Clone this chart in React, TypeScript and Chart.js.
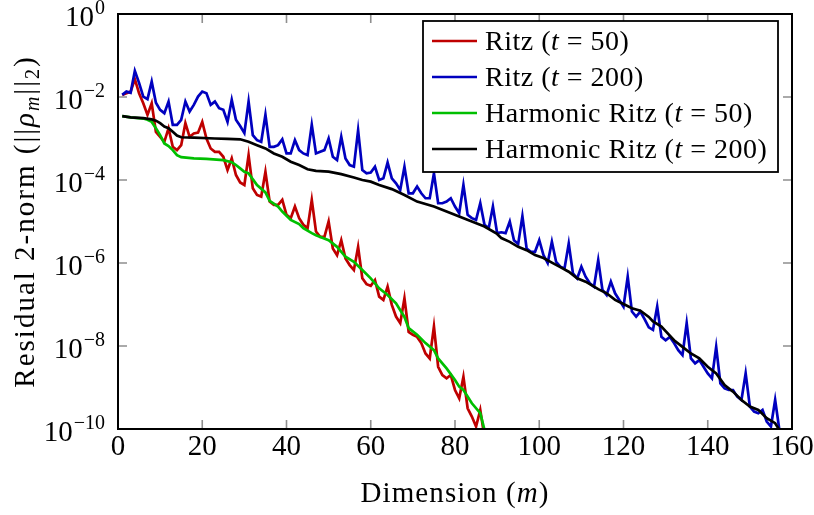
import React, { useEffect, useRef } from "react";
import { Chart, registerables } from "chart.js";

Chart.register(...registerables);

// Values are log10 of the residual 2-norm.
// Ritz (t = 50): dimension m = 1..87
const ritz50Log10 = [
  -1.95, -1.91, -1.87, -1.57, -1.91, -2.15, -2.43, -2.15, -2.84, -2.96,
  -3.08, -2.75, -3.2, -3.28, -3.16, -2.63, -2.96, -2.88, -2.86, -2.6,
  -3.0, -3.24, -3.32, -3.32, -3.44, -3.76, -3.48, -3.88, -4.06, -4.12,
  -3.4, -4.2, -4.36, -4.4, -3.8, -4.52, -4.6, -4.6, -4.48, -4.84,
  -4.92, -4.64, -4.92, -5.08, -5.16, -4.48, -5.24, -5.37, -5.37, -5.0,
  -5.65, -5.81, -5.45, -5.89, -6.05, -6.17, -5.61, -6.37, -6.51, -6.55,
  -6.41, -6.81, -6.89, -6.57, -7.01, -7.29, -7.45, -6.85, -7.66, -7.73,
  -7.78, -7.93, -8.18, -8.3, -7.53, -8.5, -8.7, -8.78, -8.7, -9.06,
  -9.26, -8.74, -9.5, -9.7, -9.94, -9.54, -10.2,
];

// Ritz (t = 200): dimension m = 1..157
const ritz200Log10 = [
  -1.95, -1.87, -1.9, -1.37, -1.66, -1.99, -2.05, -1.63, -2.14, -2.31,
  -2.39, -2.11, -2.67, -2.67, -2.55, -2.11, -2.35, -2.19, -1.99, -1.87,
  -1.91, -2.19, -2.11, -2.27, -2.31, -2.6, -2.07, -2.55, -2.7, -2.87,
  -2.11, -2.92, -3.04, -3.08, -2.43, -3.2, -3.2, -3.16, -3.02, -3.36,
  -3.36, -3.04, -3.28, -3.36, -3.4, -2.67, -3.36, -3.32, -3.28, -3.0,
  -3.44, -3.52, -2.96, -3.48, -3.64, -3.68, -2.8, -3.76, -3.84, -3.82,
  -3.68, -4.0, -3.96, -3.58, -3.96, -4.08, -4.24, -3.68, -4.32, -4.32,
  -4.16, -4.32, -4.44, -4.44, -3.84, -4.56, -4.56, -4.52, -4.44, -4.64,
  -4.8, -4.12, -4.84, -4.92, -4.96, -4.56, -5.08, -5.16, -4.64, -5.28,
  -5.26, -5.28, -5.0, -5.45, -5.54, -4.87, -5.65, -5.73, -5.73, -5.45,
  -5.81, -6.0, -5.49, -5.97, -6.09, -6.13, -5.53, -6.25, -6.37, -6.09,
  -6.33, -6.49, -6.57, -5.93, -6.65, -6.77, -6.45, -6.73, -6.89, -7.05,
  -6.33, -7.17, -7.29, -7.17, -7.35, -7.55, -7.61, -7.05, -7.78, -7.86,
  -7.78, -7.93, -8.1, -8.22, -7.45, -8.3, -8.42, -8.34, -8.5, -8.66,
  -8.78, -8.02, -8.9, -9.02, -9.06, -9.06, -9.22, -9.3, -8.66, -9.46,
  -9.58, -9.62, -9.54, -9.82, -9.94, -9.3, -10.02,
];

// Harmonic Ritz (t = 50)
const harm50M = [
  1, 3, 6, 7, 8, 9, 10, 11, 12, 13, 14, 15, 18, 21, 25, 27, 28, 29, 30, 31,
  33, 35, 36, 38, 39, 41, 43, 44, 46, 47, 50, 52, 54, 56, 58, 60, 62, 64, 66, 68,
  69, 71, 73, 75, 76, 78, 80, 81, 82, 84, 86, 87,
];
const harm50Log10 = [
  -2.46, -2.49, -2.52, -2.55, -2.6, -2.75, -2.92, -3.12, -3.18, -3.28,
  -3.4, -3.45, -3.48, -3.49, -3.52, -3.57, -3.64, -3.72, -3.8, -3.84,
  -4.12, -4.3, -4.5, -4.64, -4.76, -4.96, -5.06, -5.16, -5.28, -5.33,
  -5.45, -5.61, -5.85, -5.97, -6.17, -6.37, -6.61, -6.77, -6.97, -7.3,
  -7.57, -7.73, -7.93, -8.1, -8.3, -8.54, -8.82, -8.98, -9.06, -9.38,
  -9.62, -10.02,
];

// Harmonic Ritz (t = 200)
const harm200M = [
  1, 3, 6, 8, 9, 10, 11, 12, 13, 14, 15, 18, 23, 26, 29, 31, 33, 35, 37, 39,
  41, 43, 45, 47, 50, 53, 56, 58, 60, 62, 65, 68, 71, 75, 78, 81, 84, 87, 90, 91,
  93, 95, 97, 99, 101, 103, 105, 107, 109, 111, 113, 114, 116, 118, 120, 122, 124, 126, 127, 129,
  130, 132, 134, 136, 138, 140, 142, 144, 146, 148, 150, 152, 154, 156, 157,
];
const harm200Log10 = [
  -2.46, -2.49, -2.51, -2.54, -2.57, -2.63, -2.71, -2.75, -2.84, -2.93,
  -2.97, -2.98, -3.0, -3.01, -3.02, -3.08, -3.16, -3.24, -3.36, -3.44,
  -3.56, -3.64, -3.74, -3.78, -3.8, -3.86, -3.94, -4.0, -4.04, -4.12,
  -4.22, -4.36, -4.52, -4.64, -4.76, -4.88, -5.0, -5.12, -5.3, -5.4,
  -5.49, -5.61, -5.69, -5.81, -5.88, -5.99, -6.1, -6.21, -6.37, -6.45,
  -6.57, -6.63, -6.73, -6.89, -6.99, -7.09, -7.15, -7.3, -7.41, -7.53,
  -7.64, -7.86, -8.02, -8.18, -8.3, -8.5, -8.66, -8.94, -9.1, -9.3,
  -9.46, -9.54, -9.74, -9.86, -10.02,
];

const xTicks = [0, 20, 40, 60, 80, 100, 120, 140, 160];
const yTickExps = [0, -2, -4, -6, -8, -10];

const seriesNames = ["Ritz", "Ritz", "Harmonic Ritz", "Harmonic Ritz"];
const seriesT = ["50", "200", "50", "200"];
const seriesColors = ["#BF0000", "#0000BF", "#00BF00", "#000000"];

const FONT = "'Liberation Serif', 'Times New Roman', serif";

type Part = { t: string; size: number; italic?: boolean; dy?: number };

function drawParts(
  ctx: CanvasRenderingContext2D,
  parts: Part[],
  x: number,
  y: number,
  spacing: number,
  measureOnly = false
) {
  let cx = x;
  (ctx as any).letterSpacing = `${spacing}px`;
  for (const p of parts) {
    ctx.font = `${p.italic ? "italic " : ""}${p.size}px ${FONT}`;
    if (!measureOnly) ctx.fillText(p.t, cx, y + (p.dy || 0));
    cx += ctx.measureText(p.t).width;
  }
  (ctx as any).letterSpacing = "0px";
  return cx - x;
}

const decor = {
  id: "decor",
  beforeDatasetsDraw(chart: any) {
    const { ctx, chartArea: ca, scales } = chart;
    const xs = scales.x;
    const ys = scales.y;
    ctx.save();
    ctx.strokeStyle = "#8f8f8f";
    ctx.lineWidth = 1.6;
    const tl = 9;
    ctx.beginPath();
    for (const v of xTicks) {
      const px = xs.getPixelForValue(v);
      ctx.moveTo(px, ca.bottom);
      ctx.lineTo(px, ca.bottom - tl);
      ctx.moveTo(px, ca.top);
      ctx.lineTo(px, ca.top + tl);
    }
    for (const e of yTickExps) {
      const py = ys.getPixelForValue(Math.pow(10, e));
      ctx.moveTo(ca.left, py);
      ctx.lineTo(ca.left + tl, py);
      ctx.moveTo(ca.right, py);
      ctx.lineTo(ca.right - tl, py);
    }
    ctx.stroke();
    ctx.restore();
  },
  afterDraw(chart: any) {
    const { ctx, chartArea: ca, scales } = chart;
    const xs = scales.x;
    const ys = scales.y;
    ctx.save();
    // frame
    ctx.strokeStyle = "#000";
    ctx.lineWidth = 2;
    ctx.strokeRect(ca.left, ca.top, ca.right - ca.left, ca.bottom - ca.top);

    ctx.fillStyle = "#000";
    ctx.textBaseline = "alphabetic";
    // x tick labels
    ctx.textAlign = "center";
    ctx.font = `29px ${FONT}`;
    for (const v of xTicks) {
      ctx.fillText(String(v), xs.getPixelForValue(v), 455);
    }
    // y tick labels
    ctx.textAlign = "left";
    for (const e of yTickExps) {
      const py = ys.getPixelForValue(Math.pow(10, e));
      const sup = e < 0 ? "\u2212" + String(-e) : String(e);
      ctx.font = `20px ${FONT}`;
      const sw = ctx.measureText(sup).width;
      ctx.font = `29px ${FONT}`;
      const bw = ctx.measureText("10").width;
      const right = 105;
      ctx.fillText("10", right - sw - bw - 1, py + 12);
      ctx.font = `20px ${FONT}`;
      ctx.fillText(sup, right - sw, py);
    }
    // x title
    const xtParts: Part[] = [
      { t: "Dimension (", size: 29 },
      { t: "m", size: 29, italic: true },
      { t: ")", size: 29 },
    ];
    const xtw = drawParts(ctx, xtParts, 0, 0, 1.1, true);
    drawParts(ctx, xtParts, (ca.left + ca.right) / 2 - xtw / 2, 502, 1.1);

    // y title
    const ytParts: Part[] = [
      { t: "Residual 2-norm (||", size: 29 },
      { t: "\u03C1", size: 29, italic: true },
      { t: "m", size: 20, italic: true, dy: 5 },
      { t: "||", size: 29 },
      { t: "2", size: 20, dy: 5 },
      { t: ")", size: 29 },
    ];
    const ytw = drawParts(ctx, ytParts, 0, 0, 2, true);
    ctx.save();
    ctx.translate(34, (ca.top + ca.bottom) / 2);
    ctx.rotate(-Math.PI / 2);
    drawParts(ctx, ytParts, -ytw / 2, 0, 2);
    ctx.restore();

    // legend
    const lx = 423, ly = 21, lw = 355, lh = 151;
    ctx.fillStyle = "#fff";
    ctx.fillRect(lx, ly, lw, lh);
    ctx.strokeStyle = "#000";
    ctx.lineWidth = 1.8;
    ctx.strokeRect(lx, ly, lw, lh);
    for (let i = 0; i < seriesNames.length; i++) {
      const ry = 41 + 36 * i;
      ctx.strokeStyle = seriesColors[i];
      ctx.lineWidth = 2.7;
      ctx.beginPath();
      ctx.moveTo(432, ry);
      ctx.lineTo(477, ry);
      ctx.stroke();
      ctx.fillStyle = "#000";
      drawParts(
        ctx,
        [
          { t: seriesNames[i] + " (", size: 28 },
          { t: "t", size: 28, italic: true },
          { t: " = " + seriesT[i] + ")", size: 28 },
        ],
        485,
        ry + 9,
        0.5
      );
    }
    ctx.restore();
  },
};

export default function App() {
  const ref = useRef<HTMLCanvasElement>(null);
  useEffect(() => {
    const canvas = ref.current!;
    const toPts = (ms: number[], ls: number[]) =>
      ls.map((l, i) => ({ x: ms[i], y: Math.pow(10, l) }));
    const idx = (ls: number[]) => ls.map((_, i) => i + 1);
    const chart = new Chart(canvas, {
      type: "line",
      data: {
        datasets: [
          {
            label: "Ritz (t = 50)",
            data: toPts(idx(ritz50Log10), ritz50Log10),
            borderColor: seriesColors[0],
            order: 4,
          },
          {
            label: "Ritz (t = 200)",
            data: toPts(idx(ritz200Log10), ritz200Log10),
            borderColor: seriesColors[1],
            order: 3,
          },
          {
            label: "Harmonic Ritz (t = 50)",
            data: toPts(harm50M, harm50Log10),
            borderColor: seriesColors[2],
            order: 2,
          },
          {
            label: "Harmonic Ritz (t = 200)",
            data: toPts(harm200M, harm200Log10),
            borderColor: seriesColors[3],
            order: 1,
          },
        ],
      },
      options: {
        responsive: false,
        animation: false,
        layout: { padding: { left: 118, right: 22, top: 14, bottom: 86 } },
        plugins: { legend: { display: false }, tooltip: { enabled: false } },
        elements: {
          point: { radius: 0 },
          line: { tension: 0, borderWidth: 2.7, fill: false },
        },
        scales: {
          x: { type: "linear", min: 0, max: 160, display: false },
          y: { type: "logarithmic", min: 1e-10, max: 1, display: false },
        },
      },
      plugins: [decor],
    });
    return () => chart.destroy();
  }, []);
  return (
    <div style={{ position: "absolute", left: 0, top: 0, width: 814, height: 515 }}>
      <canvas ref={ref} width={814} height={515} style={{ display: "block" }} />
    </div>
  );
}
